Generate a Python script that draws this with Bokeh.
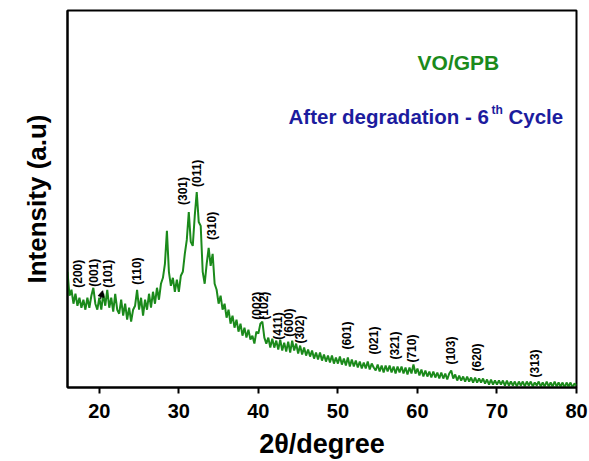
import math
from bokeh.plotting import figure
from bokeh.models import Range1d, FixedTicker, Label, Arrow, NormalHead, ColumnDataSource
from bokeh.core.properties import value
from bokeh.embed import file_html
from bokeh.resources import INLINE

# XRD pattern of VO/GPB after the 6th degradation cycle (0.25 deg steps, arbitrary units)
two_theta_start = 16.0
two_theta_step = 0.25
intensity = [
    116, 92, 98, 84, 94, 82, 90, 80, 88, 78, 90, 80, 92, 100, 84, 78,     # 16.00 - 19.75
    90, 78, 94, 82, 98, 80, 90, 76, 94, 78, 74, 88, 72, 84, 68, 80,      # 20.00 - 23.75
    66, 78, 82, 98, 78, 90, 72, 88, 78, 94, 80, 96, 84, 100, 88, 104,     # 24.00 - 27.75
    110, 124, 157, 116, 102, 110, 96, 108, 96, 112, 116, 134, 148, 176, 146, 142,   # 28.00 - 31.75
    172, 196, 166, 162, 116, 104, 124, 140, 122, 134, 104, 98, 84, 92, 78, 84,      # 32.00 - 35.75
    70, 78, 64, 72, 60, 68, 56, 64, 52, 60, 50, 58, 48, 52, 44, 56,       # 36.00 - 39.75
    54, 64, 66, 50, 44, 50, 40, 49, 40, 47, 38, 48, 37, 45, 36, 46,       # 40.00 - 43.75
    35, 47, 37, 44, 34, 42, 33, 40, 32, 38, 31, 37, 29, 35, 28, 35,       # 44.00 - 47.75
    27, 33, 26, 32, 25, 32, 24, 30, 24, 31, 23, 29, 22, 30, 21, 28,       # 48.00 - 51.75
    21, 27, 20, 26, 19, 25, 19, 26, 18, 24, 20, 17, 23, 16, 22, 15,       # 52.00 - 55.75
    22, 16, 22, 15, 21, 14, 21, 15, 21, 14, 20, 13, 20, 14, 23, 14,       # 56.00 - 59.75
    19, 12, 18, 11, 17, 11, 16, 10, 16, 10, 15, 9, 15, 9, 14, 8,          # 60.00 - 63.75
    14, 17, 9, 13, 7, 12, 7, 11, 6, 11, 6, 10, 5, 10, 5, 9,               # 64.00 - 67.75
    5, 9, 4, 8, 3, 8, 3, 7, 3, 7, 3, 7, 2, 7, 2, 6,                       # 68.00 - 71.75
    2, 6, 1, 6, 2, 6, 1, 6, 2, 6, 1, 5, 2, 6, 1, 5,                       # 72.00 - 75.75
    1, 6, 1, 5, 1, 6, 1, 5, 1, 5, 0, 5, 1, 5, 0, 4,                       # 76.00 - 79.75
    2,                                                                    # 80.00
]
two_theta = [two_theta_start + i * two_theta_step for i in range(len(intensity))]

# Miller indices of the assigned reflections and the height of their tags
hkl = ["(200)", "(001)", "(101)", "(110)", "(301)", "(011)", "(310)", "(002)", "(102)",
       "(411)", "(600)", "(302)", "(601)", "(021)", "(321)", "(710)", "(103)", "(620)", "(313)"]
hkl_two_theta = [17.26, 19.27, 21.03, 24.80, 30.46, 32.34, 34.23, 39.88, 40.76,
                 42.52, 43.90, 45.29, 51.20, 54.60, 57.23, 59.37, 64.27, 67.54, 74.83]
hkl_tag_base = [100, 101, 100, 103, 183, 201, 148, 68, 68,
                48, 51, 44, 38, 33, 28, 25, 23, 16, 10]

x_ticks = [20, 30, 40, 50, 60, 70, 80]

GREEN = "#1b8a1b"
BLUE = "#1c1c9e"
FONT = "Liberation Sans"

p = figure(width=589, height=461, output_backend="svg", toolbar_location=None,
           x_range=Range1d(16, 80), y_range=Range1d(0, 378),
           min_border_left=67, min_border_right=13, min_border_top=10, min_border_bottom=73)

p.background_fill_color = "white"
p.border_fill_color = "white"
p.outline_line_color = "black"
p.outline_line_width = 2
p.xgrid.visible = False
p.ygrid.visible = False

# bottom axis
p.xaxis.ticker = FixedTicker(ticks=x_ticks)
p.xaxis.axis_line_width = 2
p.xaxis.major_tick_line_width = 2
p.xaxis.major_tick_in = 0
p.xaxis.major_tick_out = 6
p.xaxis.minor_tick_line_color = None
p.xaxis.major_label_text_font = FONT
p.xaxis.major_label_text_font_style = "bold"
p.xaxis.major_label_text_font_size = "20px"
p.xaxis.major_label_text_color = "black"
p.xaxis.major_label_standoff = 10
p.xaxis.axis_label = "2θ/degree"
p.xaxis.axis_label_text_font = FONT
p.xaxis.axis_label_text_font_style = "bold"
p.xaxis.axis_label_text_font_size = "27px"
p.xaxis.axis_label_text_color = "black"
p.xaxis.axis_label_standoff = 8

# left axis: arbitrary intensity, no ticks
p.yaxis.ticker = FixedTicker(ticks=[])
p.yaxis.axis_line_width = 2
p.yaxis.major_tick_line_color = None
p.yaxis.minor_tick_line_color = None
p.yaxis.major_tick_out = 0
p.yaxis.major_label_standoff = 0
p.yaxis.axis_label = "Intensity (a.u)"
p.yaxis.axis_label_text_font = FONT
p.yaxis.axis_label_text_font_style = "bold"
p.yaxis.axis_label_text_font_size = "26px"
p.yaxis.axis_label_text_color = "black"
p.yaxis.axis_label_standoff = 16

p.line(two_theta, intensity, line_color=GREEN, line_width=2)

tags = ColumnDataSource(dict(x=hkl_two_theta, y=hkl_tag_base, text=hkl))
p.text(x="x", y="y", text="text", source=tags, angle=math.pi / 2,
       text_align="left", text_baseline="middle",
       text_font=value(FONT), text_font_style="bold", text_font_size="12px",
       text_color="black")

p.add_layout(Arrow(end=NormalHead(size=6, fill_color="black", line_color="black"),
                   x_start=20.15, y_start=89, x_end=20.42, y_end=97,
                   line_color="black", line_width=1.2))

# sample name and cycle note
p.add_layout(Label(x=65.15, y=326, text="VO/GPB", text_align="center",
                   text_baseline="alphabetic", text_font=FONT, text_font_style="bold",
                   text_font_size="21px", text_color=GREEN))
p.add_layout(Label(x=43.79, y=272, text="After degradation - 6", text_align="left",
                   text_baseline="alphabetic", text_font=FONT, text_font_style="bold",
                   text_font_size="20.5px", text_color=BLUE))
p.add_layout(Label(x=69.31, y=278, text="th", text_align="left",
                   text_baseline="alphabetic", text_font=FONT, text_font_style="bold",
                   text_font_size="12px", text_color=BLUE))
p.add_layout(Label(x=71.45, y=272, text="Cycle", text_align="left",
                   text_baseline="alphabetic", text_font=FONT, text_font_style="bold",
                   text_font_size="20.5px", text_color=BLUE))

open("out.html", "w").write(file_html(p, INLINE))
